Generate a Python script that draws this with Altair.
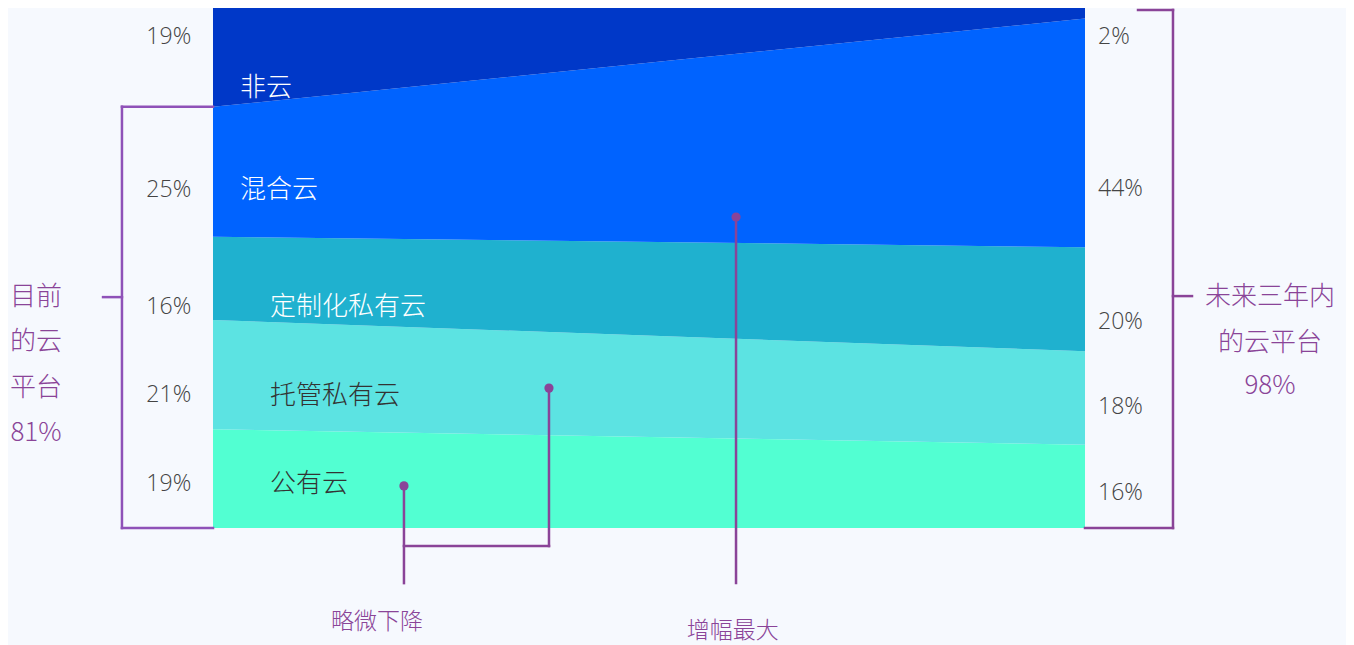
import altair as alt
import pandas as pd

# ---------------- data ----------------
categories = ["公有云", "托管私有云", "定制化私有云", "混合云", "非云"]
now_share = [19, 21, 16, 25, 19]
future_share = [16, 18, 20, 44, 2]
now_total_text = ["目前", "的云", "平台", "81%"]
future_total_text = ["未来三年内", "的云平台", "98%"]
callout_text = ["略微下降", "增幅最大"]

# ---------------- styles ----------------
area_colors = ["#52ffd2", "#5ce3e2", "#1fb1cf", "#0063ff", "#0038c8"]
label_colors = ["#333333", "#333333", "#ffffff", "#ffffff", "#ffffff"]
purple = "#8a4498"
violet = "#8f52b8"
bg = "#f6f9fe"
FONT = "Noto Sans CJK SC"

W, H = 1338, 637
xscale = alt.Scale(domain=[-0.23509, 1.29931], nice=False, zero=False)
yscale = alt.Scale(domain=[-22.5, 100], nice=False, zero=False)

# ---------------- stacked areas ----------------
rows = []
for i, c in enumerate(categories):
    for xpos, shares in [(0, now_share), (1, future_share)]:
        lo = sum(shares[:i])
        rows.append(dict(cat=c, x=xpos, lo=lo, hi=lo + shares[i]))
area_df = pd.DataFrame(rows)

area = alt.Chart(area_df).mark_area(interpolate="linear", opacity=1).encode(
    x=alt.X("x:Q", scale=xscale, axis=None),
    y=alt.Y("lo:Q", scale=yscale, axis=None),
    y2="hi:Q",
    color=alt.Color("cat:N", scale=alt.Scale(domain=categories, range=area_colors), legend=None),
    detail="cat:N",
)

# ---------------- percent labels ----------------
left_label_y = [8.8, 26.0, 42.9, 65.4, 94.8]
right_label_y = [7.1, 23.7, 40.0, 65.6, 94.8]
pct_left = pd.DataFrame(dict(x=[-0.025] * 5, y=left_label_y, t=[f"{v}%" for v in now_share]))
pct_right = pd.DataFrame(dict(x=[1.015] * 5, y=right_label_y, t=[f"{v}%" for v in future_share]))

def text_layer(df, align, color, size, weight=300, font=FONT, dy=0):
    return alt.Chart(df).mark_text(
        align=align, baseline="middle", fontSize=size, font=font, fontWeight=weight,
        color=color, dy=dy
    ).encode(
        x=alt.X("x:Q", scale=xscale, axis=None),
        y=alt.Y("y:Q", scale=yscale, axis=None),
        text="t:N",
    )

pct_l = text_layer(pct_left, "right", "#444444", 23, font="Open Sans", dy=2)
pct_r = text_layer(pct_right, "left", "#444444", 23, font="Open Sans", dy=2)

# ---------------- category labels ----------------
cat_x = [0.0654, 0.0654, 0.0654, 0.031, 0.031]
cat_y = [8.8, 25.8, 42.9, 65.4, 85.0]
cat_df = pd.DataFrame(dict(x=cat_x, y=cat_y, t=categories, col=label_colors))
cat_labels = alt.Chart(cat_df).mark_text(
    align="left", baseline="middle", fontSize=26, font=FONT, fontWeight=300, dy=2
).encode(
    x=alt.X("x:Q", scale=xscale, axis=None),
    y=alt.Y("y:Q", scale=yscale, axis=None),
    text="t:N",
    color=alt.Color("col:N", scale=None),
)

# ---------------- brackets & callouts ----------------
now_cloud = sum(now_share[:4])
lb = [
    (-0.1044, now_cloud, 0.0, now_cloud),
    (-0.1044, now_cloud, -0.1044, 0.0),
    (-0.1044, 0.0, 0.0, 0.0),
    (-0.1261, 44.4, -0.1044, 44.4),
]
rb = [
    (1.0608, 99.6, 1.1009, 99.6),
    (1.1009, 99.6, 1.1009, 0.0),
    (1.0, 0.0, 1.1009, 0.0),
    (1.1009, 44.6, 1.1227, 44.6),
    (0.219, 8.1, 0.219, -10.6),
    (0.219, -3.46, 0.3853, -3.46),
    (0.3853, -3.46, 0.3853, 26.9),
    (0.5998, 59.8, 0.5998, -10.6),
]

def seg_layer(segs, color):
    df = pd.DataFrame(segs, columns=["x", "y", "x2", "y2"])
    return alt.Chart(df).mark_rule(strokeWidth=2.5, strokeCap="square", color=color).encode(
        x=alt.X("x:Q", scale=xscale, axis=None),
        y=alt.Y("y:Q", scale=yscale, axis=None),
        x2="x2:Q",
        y2="y2:Q",
    )

left_br = seg_layer(lb, violet)
right_br = seg_layer(rb, purple)

dots_df = pd.DataFrame(dict(x=[0.219, 0.3853, 0.5998], y=[8.1, 26.9, 59.8]))
dots = alt.Chart(dots_df).mark_circle(size=85, opacity=1, color=purple).encode(
    x=alt.X("x:Q", scale=xscale, axis=None),
    y=alt.Y("y:Q", scale=yscale, axis=None),
)

# ---------------- annotation texts ----------------
lt_df = pd.DataFrame(dict(x=[-0.203] * 4, y=[44.6, 36.0, 27.1, 18.5], t=now_total_text))
rt_df = pd.DataFrame(dict(x=[1.2122] * 3, y=[44.6, 35.8, 27.5], t=future_total_text))
co_df = pd.DataFrame(dict(x=[0.188, 0.596], y=[-17.9, -19.6], t=callout_text))

lt = text_layer(lt_df, "center", purple, 26, dy=1)
rt = text_layer(rt_df, "center", purple, 26, dy=1)
co = text_layer(co_df, "center", purple, 23, dy=1)

chart = alt.layer(
    area, cat_labels, pct_l, pct_r, left_br, right_br, dots, lt, rt, co
).properties(
    width=W, height=H, padding=0, autosize="none", background=bg
).configure_view(strokeWidth=0)

chart.save("out.html", embed_options={"renderer": "svg", "actions": False})
